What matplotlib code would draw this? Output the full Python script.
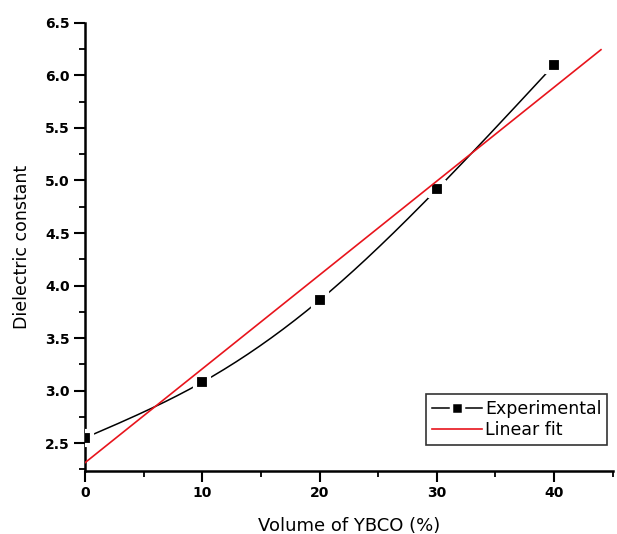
import numpy as np
import matplotlib.pyplot as plt
from matplotlib.ticker import MultipleLocator

# YBCO volume fraction vs dielectric constant
volume = [0, 10, 20, 30, 40]
dielectric = [2.55, 3.08, 3.86, 4.915, 6.10]
fit_end = 44


def spline(x, y, n=200):
    # natural cubic spline for the smooth connecting line
    x = np.asarray(x, float)
    y = np.asarray(y, float)
    h = np.diff(x)
    m = len(x)
    A = np.zeros((m, m))
    r = np.zeros(m)
    A[0, 0] = A[-1, -1] = 1
    for i in range(1, m - 1):
        A[i, i - 1] = h[i - 1]
        A[i, i] = 2 * (h[i - 1] + h[i])
        A[i, i + 1] = h[i]
        r[i] = 3 * ((y[i + 1] - y[i]) / h[i] - (y[i] - y[i - 1]) / h[i - 1])
    c = np.linalg.solve(A, r)
    xs = np.linspace(x[0], x[-1], n)
    idx = np.clip(np.searchsorted(x, xs) - 1, 0, m - 2)
    dx = xs - x[idx]
    b = (y[1:] - y[:-1]) / h - h * (2 * c[:-1] + c[1:]) / 3
    d = (c[1:] - c[:-1]) / (3 * h)
    ys = y[idx] + b[idx] * dx + c[idx] * dx ** 2 + d[idx] * dx ** 3
    return xs, ys


red = '#e8141c'

fig = plt.figure(figsize=(6.17, 5.34), dpi=100)
ax = fig.add_axes([0.138, 0.118, 0.855, 0.839])

xs, ys = spline(volume, dielectric)
ax.plot(xs, ys, color='black', lw=1.1, zorder=2)
ax.plot(volume, dielectric, ls='none', marker='s', ms=10, mfc='black',
        mec='white', mew=3, zorder=3)

slope, icept = np.polyfit(volume, dielectric, 1)
xf = np.array([0, fit_end])
ax.plot(xf, icept + slope * xf, color=red, lw=1.2, zorder=4)

# legend entries drawn as proxies
ax.plot([], [], color='black', lw=1.1, marker='s', ms=8, mfc='black',
        mec='white', mew=2.5, label='Experimental')
ax.plot([], [], color=red, lw=1.2, label='Linear fit')
leg = ax.legend(loc='lower right', bbox_to_anchor=(0.99, 0.058),
                fontsize=12.5, frameon=True, fancybox=False, handlelength=2.9,
                handletextpad=0.15, borderpad=0.35, labelspacing=0.15,
                borderaxespad=0)
leg.get_frame().set_edgecolor('black')
leg.get_frame().set_linewidth(1.2)

ax.set_xlim(0, 45)
ax.set_ylim(2.234, 6.5)
ax.xaxis.set_major_locator(MultipleLocator(10))
ax.xaxis.set_minor_locator(MultipleLocator(5))
ax.yaxis.set_major_locator(MultipleLocator(0.5))
ax.yaxis.set_minor_locator(MultipleLocator(0.25))

for s in ['top', 'right']:
    ax.spines[s].set_visible(False)
for s in ['left', 'bottom']:
    ax.spines[s].set_linewidth(1.8)

ax.tick_params(which='major', direction='out', length=8, width=1.5,
               labelsize=10, pad=3)
ax.tick_params(which='minor', direction='out', length=4, width=1.3)
for lab in ax.get_xticklabels() + ax.get_yticklabels():
    lab.set_fontweight('bold')

ax.set_xlabel('Volume of YBCO (%)', fontsize=13, labelpad=12)
ax.set_ylabel('Dielectric constant', fontsize=12.5, labelpad=10)

fig.savefig('out.png', dpi=100)
